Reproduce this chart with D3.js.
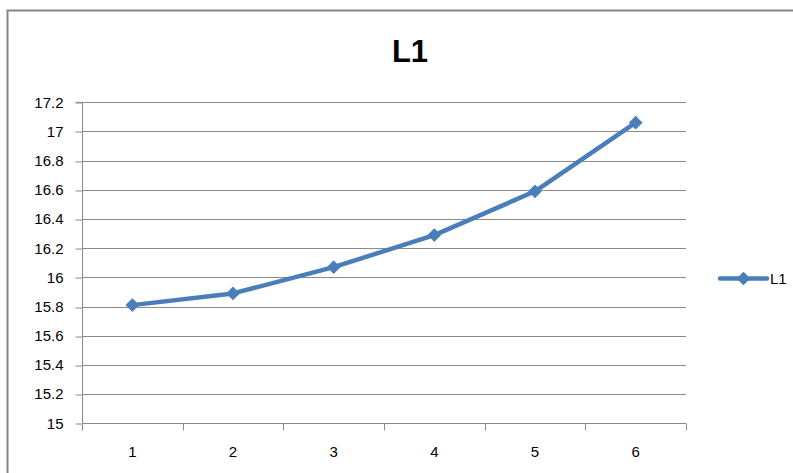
<!DOCTYPE html>
<html>
<head>
<meta charset="utf-8">
<script src="https://cdn.jsdelivr.net/npm/d3@7/dist/d3.min.js"></script>
<style>
  html, body { margin: 0; padding: 0; background: #fff; }
  svg { display: block; }
  text { font-family: "Liberation Sans", Arial, sans-serif; fill: #000; }
</style>
</head>
<body>
<svg id="chart" width="793" height="473"></svg>
<script>
const title = "L1";
const seriesName = "L1";
const categories = ["1", "2", "3", "4", "5", "6"];
const values = [15.81, 15.89, 16.07, 16.29, 16.59, 17.06];
const yTicks = [15, 15.2, 15.4, 15.6, 15.8, 16, 16.2, 16.4, 16.6, 16.8, 17, 17.2];

const svg = d3.select("#chart");
const color = "#4A7EBB";
const gridColor = "#8a8a8a";

// chart border (extends beyond right/bottom of the view)
svg.append("rect")
  .attr("x", 7.5).attr("y", 10.5)
  .attr("width", 820).attr("height", 500)
  .attr("fill", "#fff")
  .attr("stroke", "#868686").attr("stroke-width", 2);

const plot = { left: 82, right: 686, top: 102.3, bottom: 423.3 };

const x = d3.scaleBand().domain(categories).range([plot.left, plot.right]).padding(0);
const y = d3.scaleLinear().domain([15, 17.2]).range([plot.bottom, plot.top]);

// title
svg.append("text")
  .attr("x", 410).attr("y", 61.5)
  .attr("text-anchor", "middle")
  .attr("font-size", 31).attr("font-weight", "bold")
  .text(title);

// gridlines
svg.append("g").selectAll("line").data(yTicks).join("line")
  .attr("x1", plot.left).attr("x2", plot.right)
  .attr("y1", d => Math.round(y(d)) + 0.5).attr("y2", d => Math.round(y(d)) + 0.5)
  .attr("stroke", gridColor).attr("stroke-width", 1);

// y axis
const yAxis = d3.axisLeft(y).tickValues(yTicks).tickSize(7).tickPadding(5)
  .tickFormat(d => d3.format("")(+d.toFixed(1)));
const gy = svg.append("g").attr("transform", `translate(${plot.left + 0.5},0)`).call(yAxis);
gy.select(".domain").attr("stroke", gridColor).attr("d", `M-7,${plot.top}H0V${Math.round(plot.bottom)+0.5}`);
gy.selectAll(".tick line").attr("stroke", gridColor).attr("transform", d => `translate(0,${Math.round(y(d)) + 0.5 - y(d)})`);
gy.selectAll(".tick text").attr("font-size", 15).attr("fill", "#000")
  .attr("font-family", "'Liberation Sans', Arial, sans-serif").attr("x", -19);

// x axis
const xAxis = d3.axisBottom(x).tickSize(0).tickPadding(0);
const gx = svg.append("g").attr("transform", `translate(0,${Math.round(plot.bottom) + 0.5})`).call(xAxis);
gx.select(".domain").attr("stroke", gridColor).attr("d", `M${plot.left},0H${plot.right}`);
gx.selectAll(".tick text").attr("font-size", 15).attr("fill", "#000")
  .attr("font-family", "'Liberation Sans', Arial, sans-serif").attr("y", 23).attr("dy", "0.71em");
// category boundary tick marks
const bounds = categories.map(c => x(c)).concat([x(categories[categories.length - 1]) + x.bandwidth()]);
gx.append("g").selectAll("line").data(bounds).join("line")
  .attr("x1", d => Math.round(d) + 0.5).attr("x2", d => Math.round(d) + 0.5)
  .attr("y1", 0).attr("y2", 7)
  .attr("stroke", gridColor);

// line series
const cx = (c) => x(c) + x.bandwidth() / 2;
const line = d3.line().x((d, i) => cx(categories[i])).y(d => y(d));
svg.append("path").datum(values)
  .attr("d", line)
  .attr("fill", "none").attr("stroke", color)
  .attr("stroke-width", 4.5).attr("stroke-linejoin", "round").attr("stroke-linecap", "round");

const diamond = d3.symbol().type(d3.symbolDiamond2).size(120);
svg.append("g").selectAll("path").data(values).join("path")
  .attr("d", diamond)
  .attr("transform", (d, i) => `translate(${cx(categories[i])},${y(d)})`)
  .attr("fill", color);

// legend
const lg = svg.append("g").attr("transform", "translate(720,278.5)");
lg.append("line").attr("x1", 0).attr("x2", 47).attr("y1", 0).attr("y2", 0)
  .attr("stroke", color).attr("stroke-width", 4.5).attr("stroke-linecap", "round");
lg.append("path").attr("d", diamond).attr("transform", "translate(23.5,0)").attr("fill", color);
lg.append("text").attr("x", 50).attr("y", 0).attr("dy", "0.36em")
  .attr("font-size", 15).text(seriesName);
</script>
</body>
</html>
